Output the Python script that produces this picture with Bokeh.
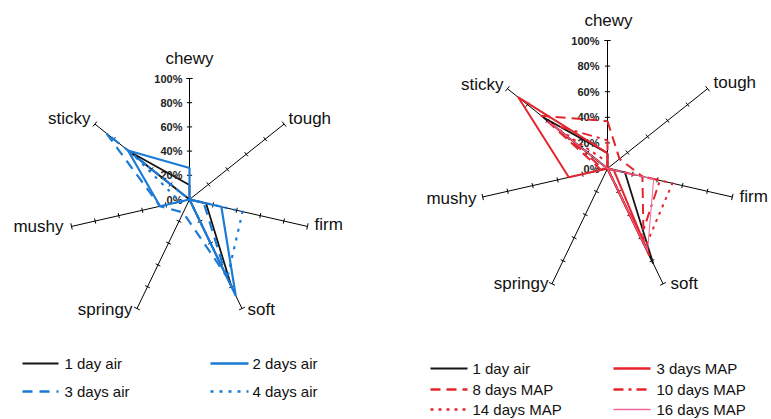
import math
from bokeh.plotting import figure
from bokeh.models import Range1d
from bokeh.core.properties import value
from bokeh.embed import file_html
from bokeh.resources import INLINE

# ---------------- data ----------------
categories = ["chewy", "tough", "firm", "soft", "springy", "mushy", "sticky"]
tick_labels = ["0%", "20%", "40%", "60%", "80%", "100%"]
tick_values = [0, 20, 40, 60, 80, 100]

# left panel (air storage), values in % per category
air_1day = [12, 0, 14, 80, 0, 0, 64]
air_2days = [26, 0, 27, 88, 0, 25, 65]
air_3days = [0, 0, 12, 70, 12, 25, 88]
air_4days = [0, 0, 45, 72, 0, 8, 60]

# right panel (MAP storage)
map_1day_air = [12, 0, 14, 82, 0, 0, 64]
map_3days = [12, 0, 5, 75, 0, 31, 89]
map_8days = [37, 12, 28, 65, 0, 5, 66]
map_10days = [22, 0, 42, 60, 0, 3, 55]
map_14days = [5, 0, 52, 68, 0, 0, 50]
map_16days = [0, 0, 37, 72, 0, 0, 58]

left_names = ["1 day air", "2 days air", "3 days air", "4 days air"]
right_names = ["1 day air", "3 days MAP", "8 days MAP", "10 days MAP", "14 days MAP", "16 days MAP"]

# ---------------- styles ----------------
BLACK = "#151515"
BLUE = "#1b7bd6"
RED = "#e4252d"
PINK = "#f0679e"
FONT = value("Liberation Sans")

left_styles = [
    dict(color=BLACK, width=1.8, dash="solid"),
    dict(color=BLUE, width=2.2, dash="solid"),
    dict(color=BLUE, width=2.2, dash="10 7"),
    dict(color=BLUE, width=2.2, dash="3 6"),
]
right_styles = [
    dict(color=BLACK, width=1.8, dash="solid"),
    dict(color=RED, width=2.0, dash="solid"),
    dict(color=RED, width=2.0, dash="10 6"),
    dict(color=RED, width=2.0, dash="10 5 3 5"),
    dict(color=RED, width=2.0, dash="3 5"),
    dict(color=PINK, width=1.0, dash="solid"),
]

W, H = 771, 419
p = figure(width=W, height=H, output_backend="svg", toolbar_location=None,
           x_range=Range1d(0, W), y_range=Range1d(H, 0),
           x_axis_location=None, y_axis_location=None, min_border=0)
p.grid.visible = False
p.outline_line_color = None
p.background_fill_color = "white"
p.border_fill_color = "white"

n = len(categories)
angles = [2 * math.pi * k / n for k in range(n)]


def radar(cx, cy, R, series, styles, label_pos, pct_dx):
    # axes
    for a in angles:
        ux, uy = math.sin(a), -math.cos(a)
        p.line([cx, cx + R * ux], [cy, cy + R * uy], line_color="black", line_width=1)
        px, py = -uy, ux
        xs0, ys0, xs1, ys1 = [], [], [], []
        for t in tick_values[1:]:
            f = t / 100.0
            bx, by = cx + R * f * ux, cy + R * f * uy
            h = 3.2 if t == 100 else 2.6
            xs0.append(bx - h * px); ys0.append(by - h * py)
            xs1.append(bx + h * px); ys1.append(by + h * py)
        p.segment(xs0, ys0, xs1, ys1, line_color="black", line_width=1)
    # percentage labels
    p.text([cx + pct_dx] * len(tick_values), [cy - R * t / 100.0 for t in tick_values],
           text=tick_labels, text_font=FONT, text_font_size=value("11px"),
           text_font_style="bold", text_color="#222222",
           text_align="right", text_baseline="middle")
    # series
    for vals, st in zip(series, styles):
        xs = [cx + R * v / 100.0 * math.sin(a) for v, a in zip(vals, angles)]
        ys = [cy - R * v / 100.0 * math.cos(a) for v, a in zip(vals, angles)]
        xs.append(xs[0]); ys.append(ys[0])
        p.line(xs, ys, line_color=st["color"], line_width=st["width"],
               line_dash=st["dash"], line_join="round")
    # category labels
    for cat, (lx, ly, al) in zip(categories, label_pos):
        p.text([lx], [ly], text=[cat], text_font=FONT, text_font_size=value("17px"),
               text_color="#111111", text_align=al, text_baseline="middle")


radar(189, 199, 121, [air_1day, air_2days, air_3days, air_4days], left_styles,
      [(189, 58, "center"), (288, 118, "left"), (314, 224, "left"), (247, 309, "left"),
       (132, 309, "right"), (63, 226, "right"), (90, 118, "right")], -7)

radar(607, 168, 128,
      [map_1day_air, map_3days, map_8days, map_10days, map_14days, map_16days],
      right_styles,
      [(608, 20, "center"), (713, 82, "left"), (739, 196, "left"), (670, 283, "left"),
       (548, 283, "right"), (476, 198, "right"), (503, 84, "right")], -8)


def legend(names, styles, cols_x, rows_y, ncols):
    for i, (nm, st) in enumerate(zip(names, styles)):
        c, r = i % ncols, i // ncols
        x0, x1, tx = cols_x[c]
        y = rows_y[r]
        p.line([x0, x1], [y, y], line_color=st["color"], line_width=st["width"] + 0.3,
               line_dash=st["dash"])
        p.text([tx], [y], text=[nm], text_font=FONT, text_font_size=value("15px"),
               text_color="#111111", text_align="left", text_baseline="middle")


legend(left_names, left_styles, [(22, 58, 64), (210, 248, 252)], [363, 391], 2)
legend(right_names, right_styles, [(430, 467, 472), (613, 650, 656)], [368, 389, 409], 2)

open("out.html", "w").write(file_html(p, INLINE))
